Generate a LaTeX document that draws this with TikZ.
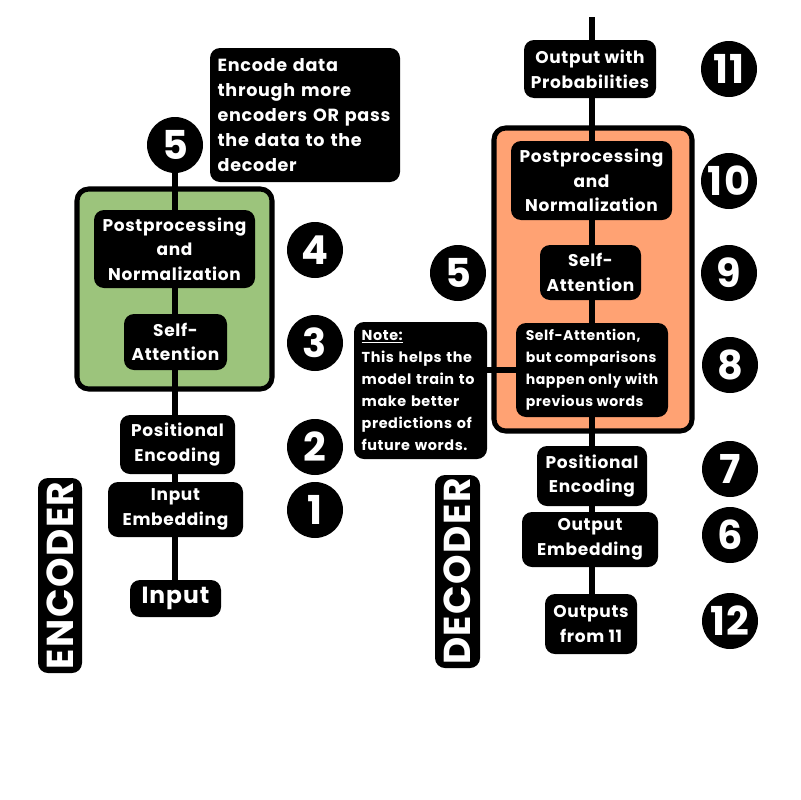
\documentclass[tikz,border=0pt]{standalone}
\usepackage{fontspec}
\setmainfont{Poppins}[LetterSpace=4]
\definecolor{encgreen}{HTML}{9CC47C}
\definecolor{decorange}{HTML}{FFA273}
\pgfdeclarelayer{bglayer}
\pgfdeclarelayer{linelayer}
\pgfsetlayers{bglayer,linelayer,main}
\begin{document}
\begin{tikzpicture}[x=0.3mm,y=-0.3mm,
  axis/.style={line width=4.3pt},
  container/.style={draw=black,line width=4.3pt,rounded corners=3.5mm},
  blk/.style={fill=black,text=white,rounded corners=3mm,align=center,inner sep=0pt,
    font=\fontsize{14.5}{21}\selectfont\bfseries},
  lblk/.style={fill=black,text=white,rounded corners=3mm,align=left,inner xsep=2.3mm,inner ysep=0pt},
  numc/.style={circle,fill=black,text=white,minimum size=16.8mm,inner sep=0pt,
    font=\fontsize{34}{34}\selectfont\bfseries},
  sidelab/.style={fill=black,text=white,rounded corners=3mm,rotate=90,inner sep=0pt,
    font=\fontsize{32}{32}\selectfont\bfseries}]
\useasboundingbox (0,0) rectangle (800,800);
% containers
\begin{pgfonlayer}{bglayer}
\node[container,fill=encgreen,minimum width=58.5mm,minimum height=60mm] (green) at (174.5,289) {};
\node[container,fill=decorange,minimum width=59.4mm,minimum height=90.9mm] (orange) at (593,279.5) {};
\end{pgfonlayer}
% encoder nodes
\node[numc] (e5) at (175,145) {5};
\node[lblk,text width=52.4mm,minimum height=40.2mm,
  font=\fontsize{15}{21.5}\selectfont\bfseries] (enote) at (305,115)
  {Encode data\\through more\\encoders OR pass\\the data to the\\decoder};
\node[blk,minimum width=48.3mm,minimum height=23.4mm] (epost) at (174.5,249) {Postprocessing\\and\\Normalization};
\node[blk,minimum width=30.9mm,minimum height=16.8mm] (esa) at (175.5,342) {Self-\\Attention};
\node[blk,minimum width=34.5mm,minimum height=17.7mm] (epos) at (177.5,444.5) {Positional\\Encoding};
\node[blk,minimum width=40.5mm,minimum height=16.5mm] (eemb) at (175.5,509.5) {Input\\Embedding};
\node[blk,minimum width=27.3mm,minimum height=11.1mm,font=\fontsize{20}{20}\selectfont\bfseries] (einput) at (175.5,598.5) {Input};
\node[numc] (c4) at (315,250) {4};
\node[numc] (c3) at (315,343) {3};
\node[numc] (c2) at (315,447) {2};
\node[numc] (c1) at (315,510) {1};
\node[sidelab,minimum width=58.5mm,minimum height=13.2mm] (enclab) at (60,575.5) {ENCODER};
% decoder nodes
\coordinate (dtop) at (592,17);
\node[blk,minimum width=39.6mm,minimum height=17.4mm] (dout) at (590,69) {Output with\\Probabilities};
\node[blk,minimum width=48.3mm,minimum height=23.7mm] (dpost) at (591.5,180.5) {Postprocessing\\and\\Normalization};
\node[blk,minimum width=30.3mm,minimum height=16.5mm] (dsa) at (590.5,272.5) {Self-\\Attention};
\node[blk,align=left,minimum width=45.6mm,minimum height=28.2mm,
  font=\fontsize{12}{18.7}\selectfont\bfseries] (dmsa) at (592,370)
  {Self-Attention,\\but comparisons\\happen only with\\previous words};
\node[blk,minimum width=33mm,minimum height=18mm] (dpos) at (592,476) {Positional\\Encoding};
\node[blk,minimum width=40.8mm,minimum height=16.5mm] (demb) at (590,539.5) {Output\\Embedding};
\node[blk,minimum width=27.6mm,minimum height=18mm] (douts) at (591,624) {Outputs\\from 11};
\node[lblk,text width=35.3mm,minimum height=41.1mm,
  font=\fontsize{12.3}{18.7}\selectfont\bfseries] (note) at (420.5,390.5)
  {\underline{Note:}\\This helps the\\model train to\\make better\\predictions of\\future words.};
\node[numc] (c11) at (729,69) {11};
\node[numc] (c10) at (729,181) {10};
\node[numc] (c9) at (729,273) {9};
\node[numc] (c8) at (730,365) {8};
\node[numc] (c7) at (730,469) {7};
\node[numc] (c6) at (730,535) {6};
\node[numc] (c12) at (730,621) {12};
\node[numc] (d5) at (458,273) {5};
\node[sidelab,minimum width=57.9mm,minimum height=13.5mm] (declab) at (457.5,571.5) {DECODER};
% connectors (behind boxes)
\begin{pgfonlayer}{linelayer}
\draw[axis] (e5.center) -- (e5.center |- einput.north);
\draw[axis] (dtop) -- (dtop |- douts.north);
\draw[axis] (note.east |- dmsa.west) -- (dmsa.west);
\end{pgfonlayer}
\end{tikzpicture}
\end{document}
